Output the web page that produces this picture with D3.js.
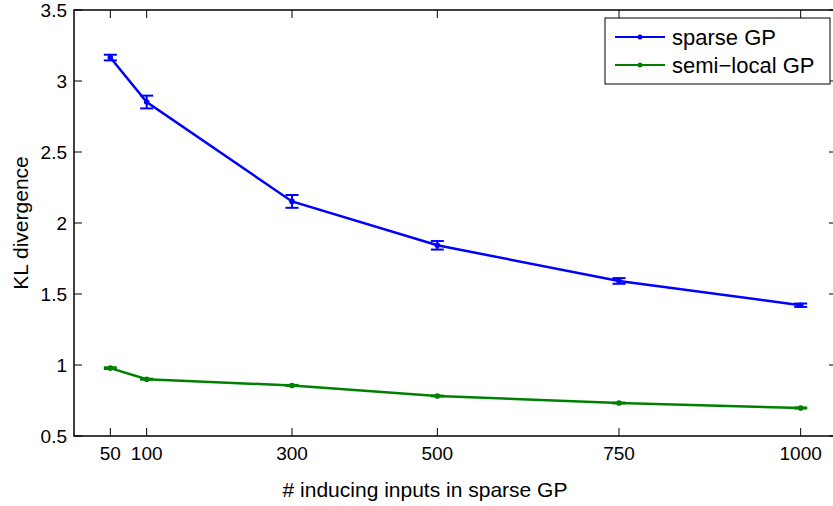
<!DOCTYPE html>
<html>
<head>
<meta charset="utf-8">
<script src="https://cdn.jsdelivr.net/npm/d3@7"></script>
<style>
  body { margin: 0; background: #fff; }
  text { font-family: "Liberation Sans", Arial, sans-serif; fill: #000; }
</style>
</head>
<body>
<script>
// inducing inputs
var xValues = [50, 100, 300, 500, 750, 1000];

// KL divergence, sparse GP (mean and error half-width)
var sparseMean = [3.165, 2.852, 2.152, 1.843, 1.592, 1.421];
var sparseErr = [0.02, 0.045, 0.045, 0.03, 0.02, 0.012];

// KL divergence, semi-local GP
var semiMean = [0.978, 0.900, 0.856, 0.782, 0.732, 0.697];
var semiErr = [0.006, 0.004, 0.004, 0.003, 0.003, 0.004];

var yTicks = [0.5, 1, 1.5, 2, 2.5, 3, 3.5];
var seriesNames = ["sparse GP", "semi\u2212local GP"];
var seriesColors = ["#0000ff", "#008000"];

var width = 833, height = 506;
var margin = { left: 74, top: 10, right: -4, bottom: 70 };

var svg = d3.select("body").append("svg")
    .attr("width", width)
    .attr("height", height);

var x = d3.scaleLinear()
    .domain([0, 1050])
    .range([margin.left, width - margin.right]);

var y = d3.scaleLinear()
    .domain([0.5, 3.5])
    .range([height - margin.bottom, margin.top]);

var x0 = x.range()[0], x1 = x.range()[1];
var y0 = y.range()[0], y1 = y.range()[1];

// frame
svg.append("rect")
    .attr("x", x0).attr("y", y1)
    .attr("width", x1 - x0).attr("height", y0 - y1)
    .attr("fill", "none").attr("stroke", "#000").attr("stroke-width", 1.5);

var tickLen = 8;

// x ticks (bottom and top, inward)
xValues.forEach(function(v) {
  svg.append("line").attr("x1", x(v)).attr("x2", x(v))
     .attr("y1", y0).attr("y2", y0 - tickLen)
     .attr("stroke", "#000").attr("stroke-width", 1);
  svg.append("line").attr("x1", x(v)).attr("x2", x(v))
     .attr("y1", y1).attr("y2", y1 + tickLen)
     .attr("stroke", "#000").attr("stroke-width", 1);
  svg.append("text")
     .attr("x", x(v)).attr("y", y0 + 24)
     .attr("text-anchor", "middle")
     .style("font-size", "19px")
     .text(v);
});

// y ticks (left and right, inward)
yTicks.forEach(function(v) {
  svg.append("line").attr("x1", x0).attr("x2", x0 + tickLen)
     .attr("y1", y(v)).attr("y2", y(v))
     .attr("stroke", "#000").attr("stroke-width", 1);
  svg.append("line").attr("x1", x1).attr("x2", x1 - tickLen)
     .attr("y1", y(v)).attr("y2", y(v))
     .attr("stroke", "#000").attr("stroke-width", 1);
  svg.append("text")
     .attr("x", x0 - 7).attr("y", y(v) + 7.4)
     .attr("text-anchor", "end")
     .style("font-size", "19px")
     .text(v);
});

// axis titles
svg.append("text")
    .attr("x", 425).attr("y", 497)
    .attr("text-anchor", "middle")
    .style("font-size", "21px")
    .text("# inducing inputs in sparse GP");

svg.append("text")
    .attr("transform", "translate(28," + ((y0 + y1) / 2) + ") rotate(-90)")
    .attr("text-anchor", "middle")
    .style("font-size", "21px")
    .text("KL divergence");

var line = d3.line()
    .x(function(d) { return x(d[0]); })
    .y(function(d) { return y(d[1]); });

function drawSeries(means, errs, color) {
  var pts = xValues.map(function(v, i) { return [v, means[i], errs[i]]; });
  var g = svg.append("g");
  g.append("path")
    .attr("d", line(pts))
    .attr("fill", "none")
    .attr("stroke", color)
    .attr("stroke-width", 2.5);
  var cap = 6.5;
  pts.forEach(function(p) {
    var cx = x(p[0]), lo = y(p[1] - p[2]), hi = y(p[1] + p[2]);
    g.append("line").attr("x1", cx).attr("x2", cx).attr("y1", lo).attr("y2", hi)
      .attr("stroke", color).attr("stroke-width", 2);
    g.append("line").attr("x1", cx - cap).attr("x2", cx + cap).attr("y1", lo).attr("y2", lo)
      .attr("stroke", color).attr("stroke-width", 2);
    g.append("line").attr("x1", cx - cap).attr("x2", cx + cap).attr("y1", hi).attr("y2", hi)
      .attr("stroke", color).attr("stroke-width", 2);
    g.append("circle").attr("cx", cx).attr("cy", y(p[1])).attr("r", 2.8)
      .attr("fill", color);
  });
}

drawSeries(sparseMean, sparseErr, seriesColors[0]);
drawSeries(semiMean, semiErr, seriesColors[1]);

// legend
var lg = svg.append("g");
lg.append("rect")
    .attr("x", 605).attr("y", 18).attr("width", 225).attr("height", 66)
    .attr("fill", "#fff").attr("stroke", "#000").attr("stroke-width", 1);
seriesNames.forEach(function(name, i) {
  var ly = 37 + i * 28;
  lg.append("line").attr("x1", 615).attr("x2", 665).attr("y1", ly).attr("y2", ly)
    .attr("stroke", seriesColors[i]).attr("stroke-width", 2);
  lg.append("circle").attr("cx", 640).attr("cy", ly).attr("r", 2.5)
    .attr("fill", seriesColors[i]);
  lg.append("text").attr("x", 672).attr("y", ly + 8)
    .style("font-size", "22px")
    .text(name);
});
</script>
</body>
</html>
